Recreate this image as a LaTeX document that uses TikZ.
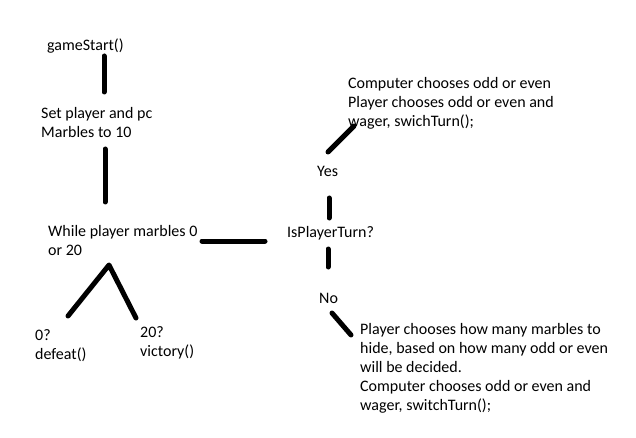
\documentclass[tikz,border=0pt]{standalone}
\usepackage{fontspec}
\setmainfont{Carlito}
\begin{document}
\begin{tikzpicture}[x=1pt,y=-1pt,
  lbl/.style={anchor=base west,inner sep=0pt,align=left,font=\fontsize{16pt}{19pt}\selectfont,text=black},
  conn/.style={line width=5pt,line cap=round}]
\useasboundingbox[fill=white] (0,0) rectangle (636,438);
\node[lbl] (start) at (47,51) {gameStart()};
\node[lbl] (set) at (41,138) {Set player and pc\\Marbles to 10};
\node[lbl] (while) at (48,255) {While player marbles 0\\or 20};
\node[lbl] (turn) at (287,237) {IsPlayerTurn?};
\node[lbl] (defeat) at (35,359) {0?\\defeat()};
\node[lbl] (victory) at (140,356) {20?\\victory()};
\node[lbl] (yes) at (317,177) {Yes};
\node[lbl] (no) at (319,303) {No};
\node[lbl] (comp) at (348,127) {Computer chooses odd or even\\Player chooses odd or even and\\wager, swichTurn();};
\node[lbl] (play) at (360,410) {Player chooses how many marbles to\\hide, based on how many odd or even\\will be decided.\\Computer chooses odd or even and\\wager, switchTurn();};
\coordinate (a1) at (104,56);  \coordinate (a2) at (104,92);
\coordinate (b1) at (105,149); \coordinate (b2) at (105,202);
\coordinate (c1) at (202,241); \coordinate (c2) at (265,241);
\coordinate (d0) at (109,265); \coordinate (d1) at (68,316); \coordinate (d2) at (136,318);
\coordinate (e1) at (328,152); \coordinate (e2) at (354,126);
\coordinate (f1) at (329,198); \coordinate (f2) at (329,218);
\coordinate (g1) at (328,249); \coordinate (g2) at (328,267);
\coordinate (h1) at (332,313); \coordinate (h2) at (351,335);
\draw[conn] (a1) -- (a2);
\draw[conn] (b1) -- (b2);
\draw[conn] (c1) -- (c2);
\draw[conn,line join=round] (d1) -- (d0) -- (d2);
\draw[conn] (e1) -- (e2);
\draw[conn] (f1) -- (f2);
\draw[conn] (g1) -- (g2);
\draw[conn] (h1) -- (h2);
\end{tikzpicture}
\end{document}
